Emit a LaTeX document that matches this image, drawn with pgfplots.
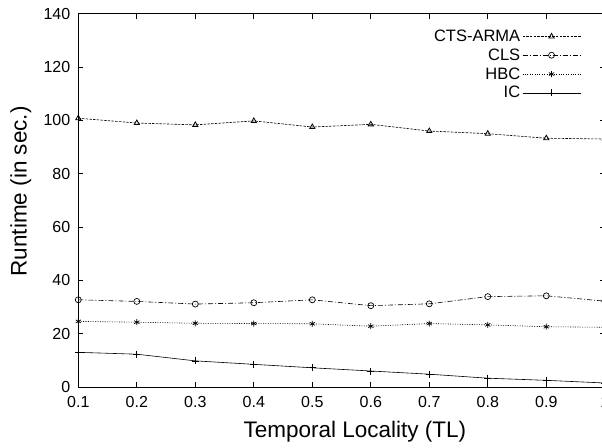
\documentclass[border=0pt]{standalone}
\usepackage{pgfplots}
\pgfplotsset{compat=1.18}
\usepackage{fontspec}
\setmainfont{Liberation Sans}
\begin{document}
\begin{tikzpicture}
\begin{axis}[
  scale only axis,
  width=526.5pt, height=373.3pt,
  xmin=0.1, xmax=1.0, ymin=0, ymax=140,
  xtick={0.1,0.2,0.3,0.4,0.5,0.6,0.7,0.8,0.9,1.0},
  xticklabels={0.1,0.2,0.3,0.4,0.5,0.6,0.7,0.8,0.9,1},
  ytick={0,20,40,60,80,100,120,140},
  /pgf/number format/assume math mode=true,
  tick label style={font=\fontsize{16}{19}\selectfont},
  xticklabel style={yshift=-6pt},
  yticklabel style={xshift=-4.5pt},
  tick align=inside,
  major tick length=5pt,
  axis line style={line width=0.8pt},
  every tick/.style={black, line width=0.6pt},
  xlabel={Temporal Locality (TL)},
  ylabel={Runtime (in sec.)},
  label style={font=\fontsize{22.5}{26}\selectfont},
  xlabel style={at={(axis description cs:0.5255,-0.1197)}, anchor=center},
  ylabel style={at={(axis description cs:-0.109,0.524)}, anchor=center},
  legend style={draw=none, fill=none, at={(axis cs:0.9645,135.5)}, anchor=north east,
    font=\fontsize{16.5}{19}\selectfont, row sep=1.8pt,
    /tikz/every even column/.append style={column sep=3pt}},
  legend cell align=right,
  legend plot pos=right,
  legend image code/.code={\draw[mark repeat=2,mark phase=2,#1] plot coordinates {(0pt,0pt)(29pt,0pt)(58pt,0pt)};},
]
\addplot[black, line width=0.6pt, dash pattern=on 2.5pt off 1.2pt, mark=triangle, mark size=3pt, mark options={solid, line width=0.8pt}]
coordinates {(0.1,100.8)(0.2,99.0)(0.3,98.3)(0.4,99.8)(0.5,97.5)(0.6,98.5)(0.7,96.0)(0.8,95.0)(0.9,93.3)(1.0,93.0)};
\addlegendentry{CTS-ARMA}
\addplot[black, line width=0.6pt, dash pattern=on 5pt off 2pt on 1pt off 2pt, mark=o, mark size=3pt, mark options={solid, line width=0.7pt}]
coordinates {(0.1,32.7)(0.2,32.1)(0.3,31.1)(0.4,31.6)(0.5,32.7)(0.6,30.5)(0.7,31.2)(0.8,33.9)(0.9,34.2)(1.0,32.2)};
\addlegendentry{CLS}
\addplot[black, line width=0.6pt, dash pattern=on 1pt off 1.4pt, mark=asterisk, mark size=3pt, mark options={solid, line width=0.7pt}]
coordinates {(0.1,24.6)(0.2,24.3)(0.3,23.9)(0.4,23.8)(0.5,23.7)(0.6,22.8)(0.7,23.8)(0.8,23.3)(0.9,22.6)(1.0,22.4)};
\addlegendentry{HBC}
\addplot[black, line width=0.6pt, solid, mark=+, mark size=3.5pt, mark options={solid, line width=0.7pt}]
coordinates {(0.1,13.0)(0.2,12.3)(0.3,9.8)(0.4,8.5)(0.5,7.2)(0.6,6.0)(0.7,4.8)(0.8,3.3)(0.9,2.5)(1.0,1.5)};
\addlegendentry{IC}
\end{axis}
\pgfresetboundingbox
\useasboundingbox (-78.3pt,-60pt) rectangle (523.7pt,387pt);
\end{tikzpicture}
\end{document}
